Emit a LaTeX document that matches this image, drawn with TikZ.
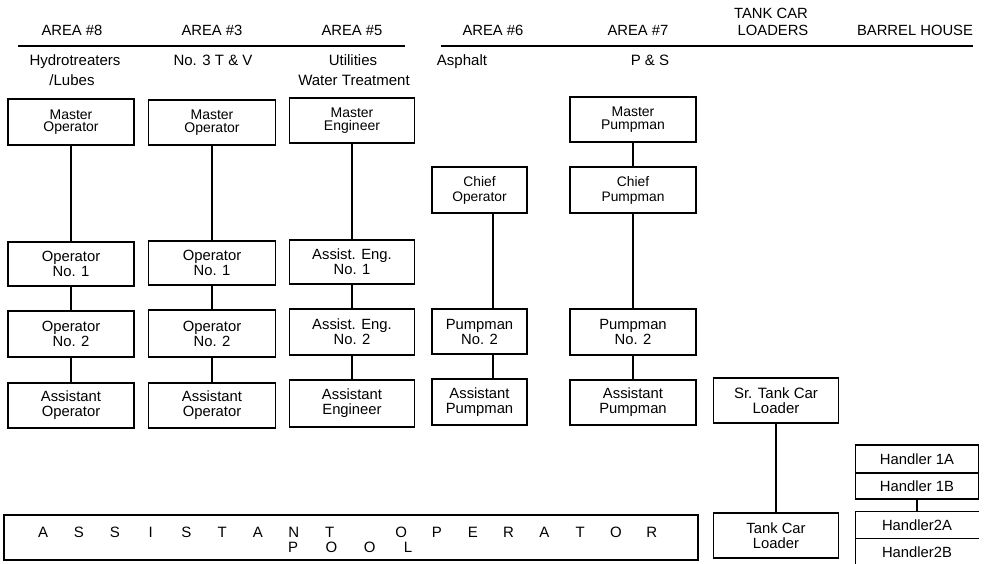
\documentclass[tikz,border=0pt]{standalone}
\usepackage{fontspec}
\setmainfont{Liberation Sans}
\newcommand\plet[1]{\makebox[35.8pt]{#1}}
\newcommand\pletb[1]{\makebox[38.3pt]{#1}}
\begin{document}
\begin{tikzpicture}[x=1pt,y=-1pt,
  box/.style={draw, line width=1.2pt, inner sep=0pt, align=center, font=\fontsize{14.8}{15}\selectfont},
  mbox/.style={box, font=\fontsize{14}{12.5}\selectfont},
  cbox/.style={box, font=\fontsize{13.8}{15}\selectfont},
  hdr/.style={anchor=base, inner sep=0pt, font=\fontsize{14.8}{17}\selectfont},
  sub/.style={anchor=base, inner sep=0pt, font=\fontsize{15}{20}\selectfont},
  conn/.style={line width=1.2pt},
  hbox/.style={inner sep=0pt, minimum width=123pt, font=\fontsize{14.8}{15}\selectfont},
  pool/.style={anchor=base west, inner sep=0pt, font=\fontsize{15}{15}\selectfont}
]
\fill[white] (0,0) rectangle (989,563);
\useasboundingbox (0,0) rectangle (989,563);

% headers
\node[hdr] (a8) at (72,35) {AREA \#8};
\node[hdr] (a3) at (212,35) {AREA \#3};
\node[hdr] (a5) at (352,35) {AREA \#5};
\node[hdr] (a6) at (493,35) {AREA \#6};
\node[hdr] (a7) at (638,35) {AREA \#7};
\node[hdr] (tc1) at (771,18) {TANK CAR};
\node[hdr] (tc2) at (773,35) {LOADERS};
\node[hdr] (bh) at (915,35) {BARREL HOUSE};
\draw[conn] (18,46) -- (405,46);
\draw[conn] (441,46) -- (973,46);

% sub headers
\node[sub] (s8a) at (75,65) {Hydrotreaters};
\node[sub] (s8b) at (72,85) {/Lubes};
\node[sub] (s3) at (213,65) {No. 3 T \& V};
\node[sub] (s5a) at (353,65) {Utilities};
\node[sub] (s5b) at (354,85) {Water Treatment};
\node[sub] (s6) at (462,65) {Asphalt};
\node[sub] (s7) at (650,65) {P \& S};

% column 1
\node[mbox, minimum width=126pt, minimum height=46pt] (c1a) at (71,122) {Master\\Operator};
\node[box, minimum width=126pt, minimum height=44pt] (c1b) at (71,264) {Operator\\No. 1};
\node[box, minimum width=126pt, minimum height=46pt] (c1c) at (71,334) {Operator\\No. 2};
\node[box, minimum width=126pt, minimum height=45pt] (c1d) at (71,405.5) {Assistant\\Operator};
% column 2
\node[mbox, minimum width=127pt, minimum height=45pt] (c2a) at (212,122.5) {Master\\Operator};
\node[box, minimum width=127pt, minimum height=44pt] (c2b) at (212,263) {Operator\\No. 1};
\node[box, minimum width=127pt, minimum height=47pt] (c2c) at (212,333.5) {Operator\\No. 2};
\node[box, minimum width=127pt, minimum height=45pt] (c2d) at (212,405.5) {Assistant\\Operator};
% column 3
\node[mbox, minimum width=125pt, minimum height=45pt] (c3a) at (352,120.5) {Master\\Engineer};
\node[box, minimum width=125pt, minimum height=44pt] (c3b) at (352,262) {Assist. Eng.\\No. 1};
\node[box, minimum width=125pt, minimum height=46pt] (c3c) at (352,332) {Assist. Eng.\\No. 2};
\node[box, minimum width=125pt, minimum height=47pt] (c3d) at (352,403.5) {Assistant\\Engineer};
% column 4
\node[cbox, minimum width=95pt, minimum height=46pt] (c4a) at (479.5,190) {Chief\\Operator};
\node[box, minimum width=95pt, minimum height=45pt] (c4b) at (479.5,331.5) {Pumpman\\No. 2};
\node[box, minimum width=95pt, minimum height=46pt] (c4c) at (479.5,402) {Assistant\\Pumpman};
% column 5
\node[mbox, minimum width=126pt, minimum height=45pt] (c5a) at (633,119.5) {Master\\Pumpman};
\node[cbox, minimum width=126pt, minimum height=46pt] (c5b) at (633,190) {Chief\\Pumpman};
\node[box, minimum width=126pt, minimum height=46pt] (c5c) at (633,332) {Pumpman\\No. 2};
\node[box, minimum width=126pt, minimum height=45pt] (c5d) at (633,402.5) {Assistant\\Pumpman};
% tank car loaders
\node[box, minimum width=125pt, minimum height=45pt, font=\fontsize{15}{15}\selectfont] (t1) at (776,400.5) {Sr. Tank Car\\Loader};
\node[box, minimum width=125pt, minimum height=45pt] (t2) at (776,535.5) {Tank Car\\Loader};
% barrel house
\node[hbox, draw, line width=1.2pt, minimum height=28pt] (h1a) at (917,459) {Handler 1A};
\node[hbox, draw, line width=1.2pt, minimum height=26pt] (h1b) at (917,486) {Handler 1B};
\node[hbox, minimum height=26pt] (h2a) at (917,525) {Handler2A};
\node[hbox, minimum height=28pt] (h2b) at (917,552) {Handler2B};
\draw[conn] (h2a.north east) -- (h2a.north west) -- (h2b.south west);
\draw[conn] (h2a.south west) -- (h2a.south east);

% pool
\node[draw, line width=1.2pt, inner sep=0pt, minimum width=694pt, minimum height=45pt] (pool) at (351,537.5) {};
\node[pool] (pool1) at (25.1,537) {\plet{A}\plet{S}\plet{S}\plet{I}\plet{S}\plet{T}\plet{A}\plet{N}\plet{T}\plet{ }\plet{O}\plet{P}\plet{E}\plet{R}\plet{A}\plet{T}\plet{O}\plet{R}};
\node[pool] (pool2) at (273.85,552) {\pletb{P}\pletb{O}\pletb{O}\pletb{L}};

% connectors
\draw[conn] (c1a) -- (c1b);
\draw[conn] (c1b) -- (c1c);
\draw[conn] (c1c) -- (c1d);
\draw[conn] (c2a) -- (c2b);
\draw[conn] (c2b) -- (c2c);
\draw[conn] (c2c) -- (c2d);
\draw[conn] (c3a) -- (c3b);
\draw[conn] (c3b) -- (c3c);
\draw[conn] (c3c) -- (c3d);
\draw[conn] ([xshift=13.5pt]c4a.south) -- ([xshift=13.5pt]c4b.north);
\draw[conn] ([xshift=13.5pt]c4b.south) -- ([xshift=13.5pt]c4c.north);
\draw[conn] (c5a) -- (c5b);
\draw[conn] (c5b) -- (c5c);
\draw[conn] (c5c) -- (c5d);
\draw[conn] (t1) -- (t2);
\draw[conn] (h1b) -- (h2a);
\end{tikzpicture}
\end{document}
